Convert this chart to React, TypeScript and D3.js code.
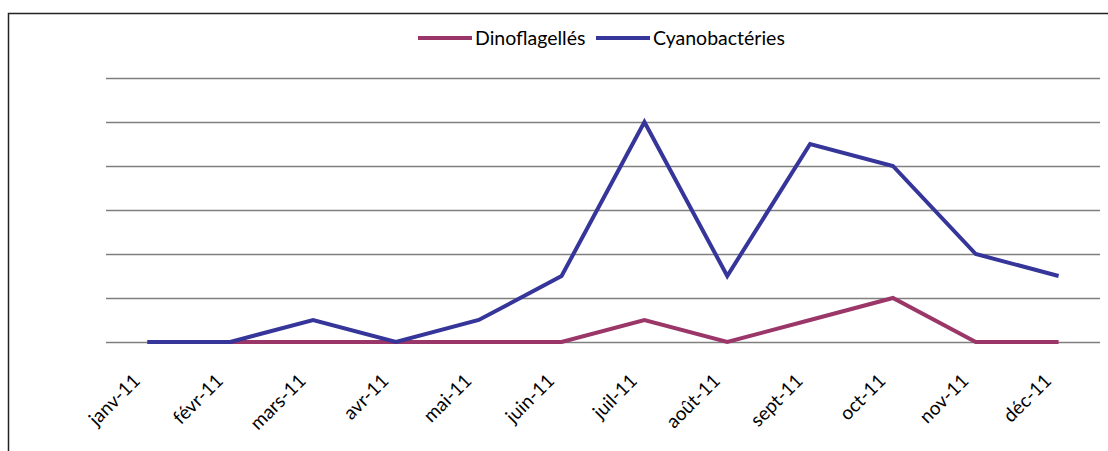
import React, { useRef, useEffect } from "react";
import * as d3 from "d3";

const months = [
  "janv-11", "févr-11", "mars-11", "avr-11", "mai-11", "juin-11",
  "juil-11", "août-11", "sept-11", "oct-11", "nov-11", "déc-11",
];
const dinoflagelles = [0, 0, 0, 0, 0, 0, 0.5, 0, 0.5, 1, 0, 0];
const cyanobacteries = [0, 0, 0.5, 0, 0.5, 1.5, 5, 1.5, 4.5, 4, 2, 1.5];
const gridTicks = [0, 1, 2, 3, 4, 5, 6];

const series = [
  { name: "Dinoflagellés", values: dinoflagelles, color: "#9b3669" },
  { name: "Cyanobactéries", values: cyanobacteries, color: "#35359a" },
];

const App: React.FC = () => {
  const chartRef = useRef<SVGSVGElement>(null);

  useEffect(() => {
    if (!chartRef.current) return;
    const svg = d3.select(chartRef.current);
    svg.selectAll("*").remove();

    const font = "Lato, 'Open Sans', sans-serif";
    const left = 106;
    const right = 1100;
    const top = 78;
    const bottom = 342;

    const x = d3.scaleBand<string>().domain(months).range([left, right]);
    const y = d3.scaleLinear().domain([0, 6]).range([bottom, top]);

    // chart frame (only top and left edges visible)
    svg.append("path")
      .attr("d", "M8.5,451 L8.5,13.5 L1108,13.5")
      .attr("fill", "none")
      .attr("stroke", "#222")
      .attr("stroke-width", 1.5);

    // gridlines
    svg.append("g")
      .selectAll("line")
      .data(gridTicks)
      .enter()
      .append("line")
      .attr("x1", left)
      .attr("x2", right)
      .attr("y1", (d) => y(d) + 0.5)
      .attr("y2", (d) => y(d) + 0.5)
      .attr("stroke", "#7f7f7f")
      .attr("stroke-width", 1.5);

    // x labels
    svg.append("g")
      .selectAll("text")
      .data(months)
      .enter()
      .append("text")
      .attr("transform", (d) => {
        const cx = (x(d) || 0) + x.bandwidth() / 2;
        return `translate(${cx - 6},${bottom + 40}) rotate(-45)`;
      })
      .attr("text-anchor", "end")
      .attr("font-family", font)
      .attr("font-size", 19)
      .attr("fill", "#000")
      .text((d) => d);

    const line = d3
      .line<number>()
      .x((_, i) => (x(months[i]) || 0) + x.bandwidth() / 2)
      .y((d) => y(d));

    svg.append("g")
      .selectAll("path")
      .data(series)
      .enter()
      .append("path")
      .attr("d", (s) => line(s.values) || "")
      .attr("fill", "none")
      .attr("stroke", (s) => s.color)
      .attr("stroke-width", 4)
      .attr("stroke-linejoin", "miter")
      .attr("stroke-linecap", "butt");

    // legend
    const legendPos = [418, 596];
    const legend = svg.append("g")
      .selectAll("g")
      .data(series)
      .enter()
      .append("g")
      .attr("transform", (_, i) => `translate(${legendPos[i]},38)`);
    legend.append("line")
      .attr("x1", 0)
      .attr("x2", 54)
      .attr("y1", 0)
      .attr("y2", 0)
      .attr("stroke", (s) => s.color)
      .attr("stroke-width", 4);
    legend.append("text")
      .attr("x", 57)
      .attr("y", 7)
      .attr("font-family", font)
      .attr("font-size", 19.5)
      .attr("fill", "#000")
      .text((s) => s.name);
  }, []);

  return (
    <svg
      ref={chartRef}
      width={1108}
      height={451}
      style={{ position: "absolute", left: 0, top: 0, background: "#fff" }}
    ></svg>
  );
};

export default App;
